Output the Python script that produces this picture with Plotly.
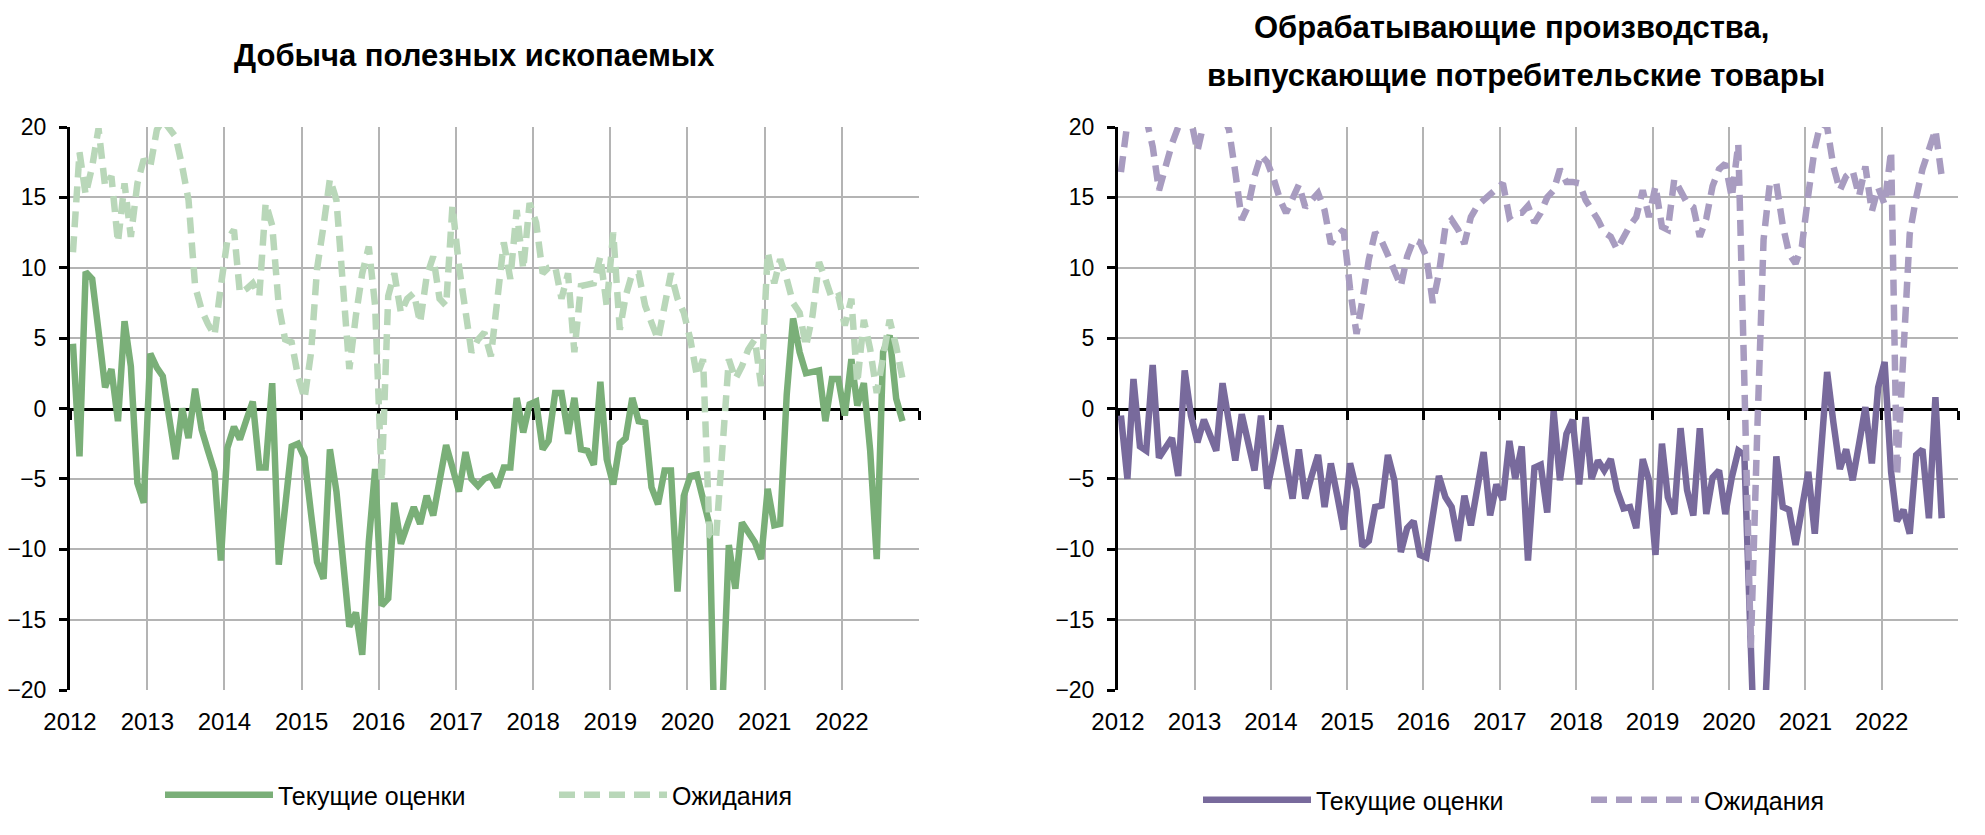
import plotly.graph_objects as go

# monthly points, Jan 2012 .. Oct 2022 (plotted mid-month)
months = [f"{2012 + i // 12}-{i % 12 + 1:02d}-15" for i in range(130)]

year_ticks = [f"{y}-01-01" for y in range(2012, 2024)]
year_labels = [str(y) for y in range(2012, 2023)] + [""]

mining_current = [
    4.6, -3.4, 9.7, 9.2, 5.5, 1.5, 2.8, -0.9, 6.2, 3.0,
    -5.3, -6.7, 3.9, 2.9, 2.3, -0.5, -3.6, 0.0, -2.1, 1.4,
    -1.5, -3.0, -4.5, -10.8, -2.8, -1.3, -2.2, -0.8, 0.5, -4.2,
    -4.2, 1.8, -11.1, -7.0, -2.7, -2.5, -3.5, -7.5, -10.9, -12.1,
    -2.9, -5.9, -10.5, -15.5, -14.5, -17.5, -9.5, -4.3, -14.0, -13.5,
    -6.7, -9.6, -8.3, -7.0, -8.2, -6.2, -7.6, -5.0, -2.6, -4.2,
    -5.9, -3.1, -5.0, -5.5, -5.0, -4.8, -5.6, -4.2, -4.2, 0.75,
    -1.7, 0.3, 0.5, -2.9, -2.3, 1.1, 1.1, -1.8, 0.75, -2.9,
    -3.0, -4.0, 1.9, -3.6, -5.4, -2.5, -2.1, 0.75, -0.9, -1.0,
    -5.6, -6.8, -4.4, -4.4, -13.0, -6.2, -4.8, -4.7, -6.7, -8.3,
    -28.0, -21.0, -9.7, -12.8, -8.1, -8.8, -9.5, -10.7, -5.7, -8.3,
    -8.2, 1.0, 6.4, 4.0, 2.5, 2.6, 2.7, -0.9, 2.1, 2.1,
    -0.5, 3.5, 0.2, 1.8, -3.0, -10.7, 4.0, 5.2, 0.7, -0.9,
]

mining_expect = [
    11.1, 18.2, 15.2, 17.2, 19.9, 15.8, 16.5, 11.8, 16.0, 12.2,
    16.0, 17.7, 17.2, 19.8, 20.5, 19.8, 19.3, 17.2, 14.8, 8.7,
    7.0, 6.0, 5.2, 8.7, 12.0, 12.7, 8.2, 8.5, 8.9, 8.0,
    14.6, 13.0, 7.3, 4.9, 4.7, 2.3, 0.7, 4.0, 9.9, 13.0,
    16.3, 14.8, 8.7, 2.8, 6.6, 9.6, 11.5, 7.3, -5.2, 8.0,
    9.6, 6.8, 7.8, 8.2, 6.1, 9.4, 10.8, 7.8, 7.3, 14.4,
    10.1, 6.6, 4.0, 4.9, 5.4, 3.7, 8.2, 11.8, 9.2, 14.1,
    9.9, 14.6, 13.2, 9.6, 10.0, 10.1, 7.8, 9.6, 4.0, 8.7,
    8.8, 8.9, 10.8, 7.3, 12.5, 5.6, 8.0, 9.6, 9.6, 7.3,
    6.1, 4.9, 7.3, 9.6, 7.8, 6.8, 4.9, 2.3, 3.5, -9.0,
    -9.3, -2.0, 3.5, 2.1, 3.0, 4.2, 4.9, 1.6, 11.1, 8.9,
    10.6, 9.2, 7.5, 6.8, 4.4, 6.6, 10.4, 9.2, 7.8, 8.0,
    5.9, 7.8, 1.8, 6.3, 4.2, 1.1, 3.5, 6.3, 4.4, 2.1,
]

consumer_current = [
    -0.5, -5.0, 2.1, -2.7, -3.0, 3.1, -3.5, -2.7, -2.1, -4.8,
    2.7, -0.5, -2.4, -0.8, -1.8, -3.0, 1.8, -1.0, -3.7, -0.4,
    -2.5, -4.4, -0.5, -5.7, -3.5, -1.2, -3.8, -6.4, -2.9, -6.4,
    -4.8, -3.3, -7.0, -3.9, -6.2, -8.6, -3.9, -5.8, -9.8, -9.4,
    -7.0, -6.9, -3.3, -5.1, -10.2, -8.5, -8.0, -10.4, -10.6, -7.7,
    -4.8, -6.3, -7.0, -9.4, -6.2, -8.3, -5.7, -3.1, -7.6, -5.4,
    -6.5, -2.3, -5.0, -2.7, -10.8, -4.2, -4.0, -7.4, -0.2, -5.1,
    -1.8, -0.8, -5.4, -0.6, -5.0, -3.7, -4.4, -3.6, -5.8, -7.1,
    -7.0, -8.5, -3.6, -5.1, -10.4, -2.5, -6.3, -7.5, -1.4, -5.8,
    -7.6, -1.4, -7.5, -4.9, -4.4, -7.5, -4.9, -3.0, -3.3, -22.0,
    -30.0, -24.0, -13.4, -3.4, -7.0, -7.2, -9.7, -7.0, -4.5, -8.9,
    -3.0, 2.6, -1.0, -4.3, -2.9, -5.1, -2.5, 0.1, -3.9, 1.5,
    3.3, -4.5, -8.0, -7.2, -8.9, -3.3, -2.9, -7.8, 0.8, -7.8,
]

consumer_expect = [
    16.8, 20.3, 21.0, 20.5, 20.6, 18.6, 15.5, 17.2, 18.8, 20.0,
    21.0, 20.5, 18.3, 20.3, 21.5, 22.0, 21.0, 19.8, 16.8, 13.4,
    14.4, 16.5, 18.0, 17.5, 16.3, 14.8, 13.9, 15.0, 15.9, 14.3,
    14.8, 15.3, 14.1, 11.7, 12.3, 12.7, 8.5, 5.3, 7.7, 10.6,
    12.5, 11.9, 10.9, 9.8, 8.7, 10.8, 12.0, 11.8, 10.8, 7.5,
    9.6, 12.9, 13.4, 12.7, 11.7, 13.6, 14.4, 14.8, 15.2, 15.6,
    16.0, 13.6, 13.9, 13.9, 14.4, 13.2, 13.9, 15.0, 15.5, 17.0,
    16.1, 16.1, 16.0, 14.8, 14.2, 13.4, 12.5, 12.2, 11.3, 12.2,
    13.0, 13.6, 15.5, 13.6, 15.8, 12.9, 12.7, 16.3, 15.5, 14.6,
    14.3, 12.2, 13.5, 15.8, 17.0, 17.4, 15.0, 18.8, 2.0, -17.0,
    -2.0, 12.0, 16.0, 16.0, 13.0, 11.0, 10.3, 11.5, 15.2, 18.5,
    20.3, 20.0, 17.2, 15.5, 16.5, 16.9, 15.1, 17.2, 14.0, 15.7,
    14.5, 18.3, -4.8, 3.0, 12.4, 15.0, 17.0, 18.4, 19.8, 16.5,
]

GREEN = "#7AAF78"
GREEN_LIGHT = "#B9D7B9"
PURPLE = "#786A9C"
PURPLE_LIGHT = "#A89CC0"
GRID = "#B4B4B4"
FONT = "Liberation Sans, Arial, sans-serif"

W, H = 1985, 835
# page body adds an 8px offset, so plot areas are placed 8px up/left
left_dom = [62 / W, 911 / W]
right_dom = [1110 / W, 1950 / W]
y_dom = [1 - 682 / H, 1 - 119 / H]
zero_pos = (y_dom[0] + y_dom[1]) / 2
DASH = "16px,9px"
LW = 6.5

fig = go.Figure()

fig.add_trace(go.Scatter(
    x=months, y=mining_current, xaxis="x", yaxis="y", mode="lines",
    name="Текущие оценки", line=dict(color=GREEN, width=LW), legend="legend"
))
fig.add_trace(go.Scatter(
    x=months, y=mining_expect, xaxis="x3", yaxis="y", mode="lines",
    name="Ожидания", line=dict(color=GREEN_LIGHT, width=LW, dash=DASH), legend="legend2"
))
fig.add_trace(go.Scatter(
    x=months, y=consumer_current, xaxis="x2", yaxis="y2", mode="lines",
    name="Текущие оценки", line=dict(color=PURPLE, width=LW), legend="legend3"
))
fig.add_trace(go.Scatter(
    x=months, y=consumer_expect, xaxis="x4", yaxis="y2", mode="lines",
    name="Ожидания", line=dict(color=PURPLE_LIGHT, width=LW, dash=DASH), legend="legend4"
))

x_range = ["2012-01-01", "2023-01-01"]
tick_font = dict(family=FONT, size=24, color="black")
ytick_font = dict(family=FONT, size=23, color="black")


def bottom_axis(domain, anchor):
    return dict(
        domain=domain, anchor=anchor, type="date", range=x_range,
        tickmode="array", tickvals=year_ticks, ticktext=year_labels,
        showgrid=True, gridcolor=GRID, gridwidth=2,
        showline=False, zeroline=False, ticks="", tickfont=tick_font,
        ticklabelstandoff=15, automargin=False,
    )


def zero_axis(over):
    return dict(
        overlaying=over, anchor="free", position=zero_pos, type="date",
        range=x_range, tickmode="array", tickvals=year_ticks,
        showticklabels=False, showgrid=False, zeroline=False,
        showline=True, linecolor="black", linewidth=3,
        ticks="outside", ticklen=9, tickwidth=3, tickcolor="black",
        layer="below traces", automargin=False,
    )


def value_axis(anchor):
    return dict(
        domain=y_dom, anchor=anchor, range=[-20, 20], dtick=5, tick0=0,
        showline=True, linecolor="black", linewidth=3,
        ticks="outside", ticklen=8, tickwidth=3, tickcolor="black",
        showgrid=True, gridcolor=GRID, gridwidth=2, zeroline=False,
        tickfont=ytick_font, ticklabelstandoff=8, automargin=False,
    )


def legend_at(px, py):
    return dict(
        x=px / W, y=1 - py / H, xanchor="left", yanchor="middle",
        orientation="h", bgcolor="rgba(0,0,0,0)", borderwidth=0,
        itemwidth=108,
        font=dict(family=FONT, size=25, color="black"),
    )


title_font = dict(family=FONT, size=31, color="black")

fig.update_layout(
    width=W, height=H,
    margin=dict(l=0, r=0, t=0, b=0, autoexpand=False),
    paper_bgcolor="white", plot_bgcolor="white",
    showlegend=True,
    xaxis=bottom_axis(left_dom, "y"),
    xaxis2=bottom_axis(right_dom, "y2"),
    xaxis3=zero_axis("x"),
    xaxis4=zero_axis("x2"),
    yaxis=value_axis("x"),
    yaxis2=value_axis("x2"),
    legend=legend_at(152, 787),
    legend2=legend_at(546, 787),
    legend3=legend_at(1190, 792),
    legend4=legend_at(1578, 792),
    annotations=[
        dict(text="<b>Добыча полезных ископаемых</b>", x=466 / W, y=1 - 48 / H,
             xref="paper", yref="paper", showarrow=False, font=title_font,
             xanchor="center", yanchor="middle"),
        dict(text="<b>Обрабатывающие производства,</b>", x=1503 / W, y=1 - 19 / H,
             xref="paper", yref="paper", showarrow=False, font=title_font,
             xanchor="center", yanchor="middle"),
        dict(text="<b>выпускающие потребительские товары</b>", x=1508 / W, y=1 - 67 / H,
             xref="paper", yref="paper", showarrow=False, font=title_font,
             xanchor="center", yanchor="middle"),
    ],
)

fig.write_html("out.html")
